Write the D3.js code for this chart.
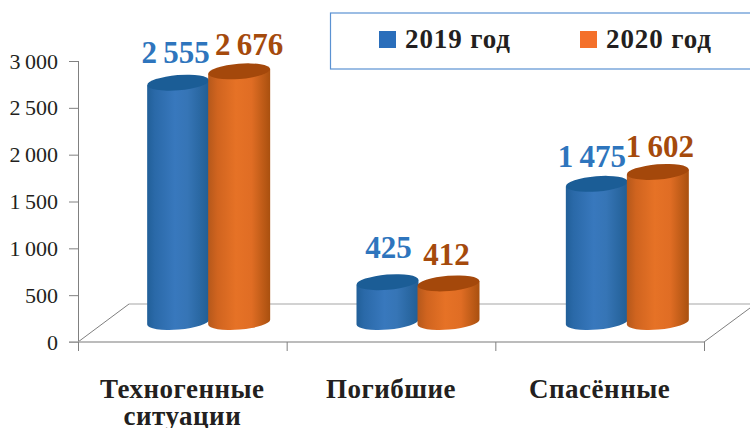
<!DOCTYPE html>
<html lang="ru"><head><meta charset="utf-8">
<script src="https://cdnjs.cloudflare.com/ajax/libs/d3/7.8.5/d3.min.js"></script>
<style>html,body{margin:0;padding:0;background:#fff;overflow:hidden}svg{display:block}</style>
</head><body><svg id="c" width="750" height="428"></svg>
<script>
const categories = ["Техногенные ситуации", "Погибшие", "Спасённые"];
const years = ["2019 год", "2020 год"];
const values2019 = [2555, 425, 1475];
const values2020 = [2676, 412, 1602];
const yTicks = [0, 500, 1000, 1500, 2000, 2500, 3000];

const svg = d3.select("#c");
const serif = "'Liberation Serif','Times New Roman',serif";
const ink = "#231f20";
const depthY = 20, backY = 38;
const x0 = 78, x1 = 704, yBase = 342, yTop = 61;
const y = d3.scaleLinear().domain([0, 3000]).range([yBase, yTop]);
const x = d3.scaleBand().domain(categories).range([x0, x1]);
const xBars = d3.scaleBand().domain(categories).range([104, 732]);
const xInner = d3.scaleBand().domain(years).range([-61, 61]);
const fmt = d3.formatLocale({decimal: ",", thousands: "\u2009", grouping: [3], currency: ["", ""]}).format(",d");

const defs = svg.append("defs");
function gradient(id, stops) {
  const g = defs.append("linearGradient").attr("id", id);
  stops.forEach(([o, c]) => g.append("stop").attr("offset", o).attr("stop-color", c));
}
gradient("g0", [[0, "#215f98"], [.12, "#2a69a8"], [.45, "#3878bd"], [.65, "#3675b6"], [1, "#215e94"]]);
gradient("g1", [[0, "#b5581b"], [.15, "#d0641f"], [.45, "#e67226"], [.7, "#e06d24"], [1, "#a9500f"]]);
const seriesColor = ["#2a6ebb", "#f4702a"];
const topColor = ["#1b5d96", "#a4480b"];
const labelColor = ["#2e75bd", "#a54a0c"];

// floor
const floorColor = "#a6a6a6";
const fl = svg.append("g").attr("fill", "none");
fl.append("path").attr("stroke", "#7f7f7f").attr("d", `M${x0},${yBase}L${x0 + 51},${yBase - backY}`);
fl.append("path").attr("stroke", floorColor).attr("stroke-width", 1.2).attr("d", `M${x0 + 51},${yBase - backY}H750`);
fl.append("path").attr("stroke", "#7f7f7f").attr("d", `M${x1},${yBase}L750,${yBase - 34}`);

// axes
const ya = svg.append("g").attr("transform", `translate(${x0},0)`)
  .call(d3.axisLeft(y).tickValues(yTicks).tickSize(9).tickPadding(11).tickFormat(fmt));
ya.selectAll("path,line").attr("stroke", "#808080");
ya.selectAll("text").attr("font-family", serif).attr("font-size", 22).attr("fill", ink).attr("dy", "0.32em");
ya.select(".domain").attr("d", `M0.5,${yBase}V${yTop}`);

const xa = svg.append("g").attr("transform", `translate(0,${yBase})`);
xa.append("line").attr("x1", x0 - 9).attr("x2", x1).attr("y1", 0).attr("y2", 0).attr("stroke", floorColor).attr("stroke-width", 1.3);
xa.selectAll("line.t").data([x0, ...categories.map(c => x(c) + x.bandwidth())]).join("line")
  .attr("class", "t").attr("x1", d => d + .5).attr("x2", d => d + .5).attr("y1", 0).attr("y2", 9).attr("stroke", "#808080");
const labels = xa.selectAll("text").data(categories).join("text")
  .attr("x", d => x(d) + x.bandwidth() / 2).attr("y", 56)
  .attr("text-anchor", "middle").attr("font-family", serif).attr("font-weight", "bold")
  .attr("font-size", 27).attr("letter-spacing", .5).attr("fill", ink);
labels.each(function (d) {
  const t = d3.select(this);
  d.split(" ").forEach((w, i) => t.append("tspan").attr("x", t.attr("x")).attr("dy", i ? 27 : 0).text(w));
});

// cylinders
const rx = 31, ry = 7.6, tilt = 4.6, rise = rx * Math.sin(tilt * Math.PI / 180);
const rows = [];
years.forEach((yr, s) => {
  const vals = s ? values2020 : values2019;
  categories.forEach((c, i) => rows.push({c, s, yr, v: vals[i], i}));
});
const cx = d => xBars(d.c) + xBars.bandwidth() / 2 + xInner(d.yr) + xInner.bandwidth() / 2;
const topY = d => y(d.v) - depthY;
const bars = svg.append("g").selectAll("g").data(rows).join("g");
bars.append("path").attr("fill", d => `url(#g${d.s})`).attr("d", d => {
  const c = cx(d), t = topY(d), b = yBase - depthY;
  return `M${c - rx},${t + rise}L${c - rx},${b + rise}A${rx},${ry} ${-tilt} 0 0 ${c + rx},${b - rise}L${c + rx},${t - rise}Z`;
});
bars.append("ellipse").attr("rx", rx).attr("ry", ry).attr("fill", d => topColor[d.s])
  .attr("transform", d => `translate(${cx(d)},${topY(d)}) rotate(${-tilt})`);

// value labels: [dx, lift] per series and category, as placed in the picture
const labelNudge = [[[-2.5, 20], [1, 24], [-5, 17]], [[10, 16], [-2, 18], [2, 15]]];
svg.append("g").selectAll("text").data(rows).join("text")
  .attr("x", d => cx(d) + labelNudge[d.s][d.i][0])
  .attr("y", d => topY(d) - labelNudge[d.s][d.i][1])
  .attr("text-anchor", "middle").attr("font-family", serif).attr("font-weight", "bold")
  .attr("font-size", 31).attr("fill", d => labelColor[d.s]).text(d => fmt(d.v));

// legend
svg.append("rect").attr("x", 330.5).attr("y", 13).attr("width", 430).attr("height", 56)
  .attr("fill", "#fff").attr("stroke", "#5b92d2").attr("stroke-width", 1.2);
const leg = svg.append("g").selectAll("g").data(years).join("g")
  .attr("transform", (d, i) => `translate(${i ? 580 : 379},31)`);
leg.append("rect").attr("width", 17).attr("height", 17).attr("fill", (d, i) => seriesColor[i]);
leg.append("text").attr("x", 26).attr("y", 17).attr("font-family", serif).attr("font-weight", "bold")
  .attr("font-size", 27).attr("letter-spacing", .9).attr("fill", ink).text(d => d);
</script></body></html>
